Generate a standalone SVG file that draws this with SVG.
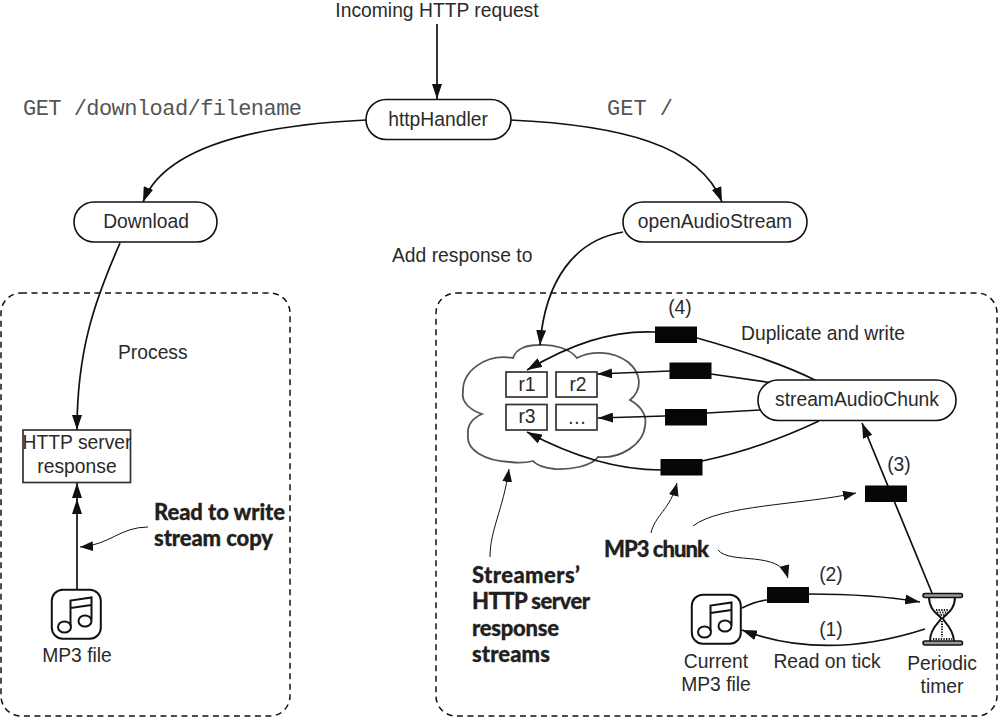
<svg xmlns="http://www.w3.org/2000/svg" width="998" height="718" viewBox="0 0 998 718">
<style>
text{font-family:"Liberation Sans",Arial,sans-serif;font-size:19.3px;fill:#2b2a2a}
.m{text-anchor:middle}
.mono{font-family:"Liberation Mono","Courier New",monospace;font-size:22px;fill:#555}
.b{font-family:"Lato","Open Sans",sans-serif;font-weight:900;font-size:22px;fill:#231f20;stroke:#231f20;stroke-width:.3}
.pill{fill:#fff;stroke:#111;stroke-width:1.6}
.c{fill:none;stroke:#111;stroke-width:1.7;marker-end:url(#a)}
.n{fill:none;stroke:#111;stroke-width:1.7}
.t{fill:none;stroke:#111;stroke-width:1;marker-end:url(#a2)}
.box{fill:none;stroke:#111;stroke-width:1.5;stroke-dasharray:6 4.5}
.r{fill:none;stroke:#333;stroke-width:1.7}
.chunk{fill:#060606}
</style>
<defs>
<marker id="a" markerUnits="userSpaceOnUse" viewBox="0 0 15 10" markerWidth="15" markerHeight="10" refX="15" refY="5" orient="auto"><path d="M0 0L15 5L0 10Z" fill="#111"/></marker>
<marker id="a2" markerUnits="userSpaceOnUse" viewBox="0 0 13 10" markerWidth="13" markerHeight="10" refX="13" refY="5" orient="auto"><path d="M0 0L13 5L0 10Z" fill="#111"/></marker>
<g id="music">
<rect x="0.8" y="0.8" width="49" height="49" rx="11" fill="#fff" stroke="#111" stroke-width="2"/>
<g fill="none" stroke="#111" stroke-width="2">
<ellipse cx="13.5" cy="38" rx="6.5" ry="5.5"/><ellipse cx="34" cy="32" rx="6.5" ry="5.5"/>
<path d="M19.5 37V11.5L40.5 8.5V31M19.5 19L40.5 16"/>
</g>
</g>
</defs>

<rect class="box" x="1" y="293" width="289" height="423" rx="20"/>
<rect class="box" x="436" y="293" width="561" height="423" rx="20"/>

<g id="cloud"><path d="M513 358C516 348 528 345 538 345C555 344 570 349 577 358C590 351 612 350 628 362C640 372 644 388 630 400C642 407 647 416 645 426C643 445 620 459 598 457C592 466 570 470 555 469C545 468 537 466 533 461C525 463 518 463 510 462C485 461 466 450 468 435C467 425 473 418 482 414C470 410 461 402 463 392C462 372 485 353 513 358Z" fill="none" stroke="#555" stroke-width="1.8"/></g>

<g id="connectors">
<path class="c" d="M437 24V99"/>
<path class="c" d="M366 120C260 125 165 145 143 202"/>
<path class="c" d="M510 120C620 125 700 145 722 202"/>
<path class="c" d="M120 243C95 300 77 350 77 430"/>
<path class="c" d="M77 589V499"/>
<path class="c" d="M77 499V483"/>
<path class="c" d="M623 232C575 240 545 280 540 345"/>
<path class="n" d="M697 338C740 350 785 365 817 381"/>
<path class="c" d="M655 332C610 330 570 345 527 370"/>
<path class="n" d="M711 374L773 383"/>
<path class="c" d="M670 371L597 374"/>
<path class="n" d="M707 413L760 410"/>
<path class="c" d="M665 416L598 418"/>
<path class="n" d="M702 461C745 452 785 437 819 421"/>
<path class="c" d="M661 470C615 470 570 455 527 432"/>
<path class="c" d="M932 593L862 423"/>
<path class="n" d="M742 608C750 604 758 601 767 600"/>
<path class="c" d="M808 594C850 594 885 596 920 602"/>
<path class="c" d="M925 629C860 650 800 652 742 630"/>
<path class="t" d="M148 527C120 527 110 545 80 547"/>
<path class="t" d="M490 557C490 530 503 510 509 469"/>
<path class="t" d="M651 533C655 515 670 510 677 483"/>
<path class="t" d="M693 526C720 505 800 505 856 493"/>
<path class="t" d="M718 550C730 565 780 550 788 578"/>
</g>

<g id="httpHandler"><rect class="pill" x="366" y="99.5" width="145" height="40" rx="20"/><text class="m" x="438" y="125.5">httpHandler</text></g>
<g id="download"><rect class="pill" x="74" y="202" width="143" height="40" rx="20"/><text class="m" x="146" y="228">Download</text></g>
<g id="openAudioStream"><rect class="pill" x="623" y="202" width="184" height="40" rx="20"/><text class="m" x="715" y="228">openAudioStream</text></g>
<g id="streamAudioChunk"><rect class="pill" x="758" y="380" width="198" height="40.5" rx="20"/><text class="m" x="857" y="406">streamAudioChunk</text></g>

<g id="response"><rect class="r" x="23" y="430" width="107.5" height="52.5"/><text class="m" x="77" y="449">HTTP server</text><text class="m" x="77" y="473">response</text></g>
<g id="r1"><rect class="r" x="506" y="372" width="41" height="25"/><text class="m" x="527" y="391">r1</text></g>
<g id="r2"><rect class="r" x="556" y="372" width="41" height="25"/><text class="m" x="578" y="391">r2</text></g>
<g id="r3"><rect class="r" x="506" y="404.5" width="41" height="25.5"/><text class="m" x="527" y="423">r3</text></g>
<g id="r4"><rect class="r" x="556" y="404.5" width="41" height="25.5"/><text class="m" x="577" y="424">…</text></g>

<g id="chunks">
<rect class="chunk" x="655" y="326.5" width="42" height="16.5"/>
<rect class="chunk" x="669.5" y="362.5" width="42" height="16.5"/>
<rect class="chunk" x="665" y="409" width="42" height="16.5"/>
<rect class="chunk" x="660.5" y="459" width="42" height="16.5"/>
<rect class="chunk" x="865" y="485.5" width="42" height="16.5"/>
<rect class="chunk" x="767" y="587" width="42" height="16"/>
</g>

<g id="mp3file"><use href="#music" x="51" y="589"/><text class="m" x="77" y="662">MP3 file</text></g>
<g id="currentMp3"><use href="#music" x="691" y="594"/><text class="m" x="716" y="668">Current</text><text class="m" x="716" y="691">MP3 file</text></g>
<g id="timer">
<path d="M929 597C929 610 938 614 941 618C942 621 930 626 930 641M955 597C955 610 946 614 943 618C942 621 953 626 954 641" fill="#fff" stroke="#111" stroke-width="2"/>
<rect x="923" y="593.5" width="39.5" height="4" rx="2" fill="#999" stroke="#111" stroke-width="1.6"/>
<rect x="923" y="641" width="39.5" height="4" rx="2" fill="#999" stroke="#111" stroke-width="1.6"/>
<path d="M936 610H949M937 612.5H948M938 615H947M941 618H944M942 621V637M933 639H952" stroke="#111" stroke-width="2" stroke-dasharray="1.3 1.3" fill="none"/>
<text class="m" x="942" y="670">Periodic</text><text class="m" x="942" y="693">timer</text>
</g>

<g id="labels">
<text class="m" x="437" y="17">Incoming HTTP request</text>
<text class="mono" x="23" y="115" textLength="279">GET /download/filename</text>
<text class="mono" x="607" y="115">GET /</text>
<text x="392" y="262">Add response to</text>
<text x="118" y="359">Process</text>
<text x="741" y="340">Duplicate and write</text>
<text class="m" x="680" y="314">(4)</text>
<text class="m" x="899" y="471">(3)</text>
<text class="m" x="831" y="581">(2)</text>
<text class="m" x="831" y="636">(1)</text>
<text class="m" x="827" y="668">Read on tick</text>
<text class="b" x="154" y="520" textLength="131">Read to write</text>
<text class="b" x="154" y="546" textLength="119">stream copy</text>
<text class="b" x="604" y="557" textLength="105">MP3 chunk</text>
<text class="b" x="472" y="583" textLength="108">Streamers’</text>
<text class="b" x="472" y="609" textLength="118">HTTP server</text>
<text class="b" x="472" y="636" textLength="87">response</text>
<text class="b" x="472" y="662" textLength="78">streams</text>
</g>
</svg>
